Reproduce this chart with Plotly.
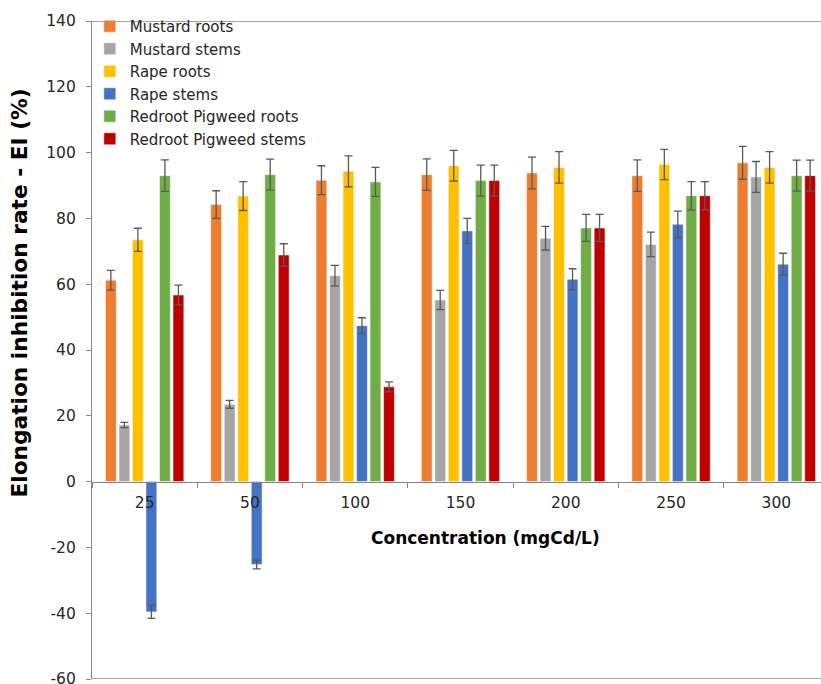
import plotly.graph_objects as go

categories = ["25", "50", "100", "150", "200", "250", "300"]

series_names = ["Mustard roots", "Mustard stems", "Rape roots", "Rape stems",
                "Redroot Pigweed roots", "Redroot Pigweed stems"]

mustard_roots = [61.2, 84.2, 91.6, 93.3, 93.8, 93.0, 96.9]
mustard_roots_err = [3.0, 4.2, 4.4, 4.8, 4.8, 4.8, 5.0]
mustard_stems = [17.2, 23.5, 62.6, 55.2, 74.0, 72.1, 92.6]
mustard_stems_err = [0.8, 1.2, 3.1, 2.9, 3.6, 3.7, 4.7]
rape_roots = [73.5, 86.8, 94.3, 96.0, 95.5, 96.4, 95.5]
rape_roots_err = [3.5, 4.4, 4.7, 4.7, 4.8, 4.6, 4.8]
rape_stems = [-39.6, -25.2, 47.4, 76.2, 61.5, 78.2, 66.1]
rape_stems_err = [2.0, 1.3, 2.4, 3.8, 3.2, 4.0, 3.3]
pigweed_roots = [93.0, 93.3, 91.1, 91.5, 77.1, 86.9, 93.0]
pigweed_roots_err = [4.8, 4.7, 4.4, 4.7, 4.1, 4.3, 4.7]
pigweed_stems = [56.7, 68.9, 28.8, 91.5, 77.1, 86.9, 93.0]
pigweed_stems_err = [3.0, 3.4, 1.5, 4.7, 4.1, 4.3, 4.7]

y_ticks = [-60, -40, -20, 0, 20, 40, 60, 80, 100, 120, 140]
y_tick_labels = [str(t) for t in y_ticks]

values = [mustard_roots, mustard_stems, rape_roots, rape_stems, pigweed_roots, pigweed_stems]
errors = [mustard_roots_err, mustard_stems_err, rape_roots_err, rape_stems_err,
          pigweed_roots_err, pigweed_stems_err]
colors = ["#ED7D31", "#A5A5A5", "#FFC000", "#4472C4", "#70AD47", "#C00000"]

fig = go.Figure()
for name, v, e, c in zip(series_names, values, errors, colors):
    fig.add_trace(go.Bar(
        x=categories, y=v, name=name,
        marker=dict(color=c, line=dict(color="rgba(255,255,255,0.5)", width=1)),
        error_y=dict(type="data", array=e, color="#595959", thickness=1.3, width=4),
    ))

axis_color = "#868686"
font_family = "DejaVu Sans, Liberation Sans, Arial, sans-serif"

fig.update_layout(
    width=821, height=684,
    margin=dict(l=92, r=0, t=21, b=5, autoexpand=False),
    paper_bgcolor="white", plot_bgcolor="white",
    barmode="group", bargap=0.23, bargroupgap=0.2,
    font=dict(family=font_family, size=15, color="#262626"),
    showlegend=True,
    legend=dict(x=-0.003, y=1.0167, xanchor="left", yanchor="top",
                bgcolor="rgba(0,0,0,0)", font=dict(size=15, color="#262626"),
                tracegroupgap=0, itemwidth=30),
    xaxis=dict(
        type="category", range=[-0.5, 6.424],
        anchor="free", position=0.3, automargin=False,
        showline=True, linecolor=axis_color, linewidth=1.3,
        ticks="outside", tickson="boundaries", ticklen=5, tickcolor=axis_color,
        ticklabelstandoff=7,
        showgrid=False, zeroline=False,
        tickfont=dict(size=15.5, color="#262626"),
    ),
    yaxis=dict(
        range=[-60, 140], tickvals=y_ticks, ticktext=y_tick_labels,
        automargin=False,
        showline=True, linecolor=axis_color, linewidth=1.3,
        ticks="outside", ticklen=5, tickcolor=axis_color,
        ticklabelstandoff=7, ticklabeloverflow="allow",
        showgrid=False, zeroline=False,
        tickfont=dict(size=15.5, color="#262626"),
    ),
    shapes=[
        dict(type="line", xref="paper", yref="y", x0=0, x1=1, y0=140, y1=140,
             line=dict(color=axis_color, width=1.3)),
        dict(type="line", xref="paper", yref="y", x0=0, x1=1, y0=-60, y1=-60,
             line=dict(color=axis_color, width=1.3)),
    ],
    annotations=[
        dict(text="<b>Concentration (mgCd/L)</b>", xref="paper", yref="paper",
             x=0.54, y=0.214, xanchor="center", yanchor="middle", showarrow=False,
             font=dict(size=17, color="#000000")),
        dict(text="<b>Elongation inhibition rate - EI (%)</b>", xref="paper", yref="paper",
             x=-0.099, xanchor="center", y=0.587, yanchor="middle", showarrow=False,
             textangle=-90, font=dict(size=21.7, color="#000000")),
    ],
)

fig.write_html("out.html", config={"displayModeBar": False},
               post_script="document.body.style.margin='0';")
